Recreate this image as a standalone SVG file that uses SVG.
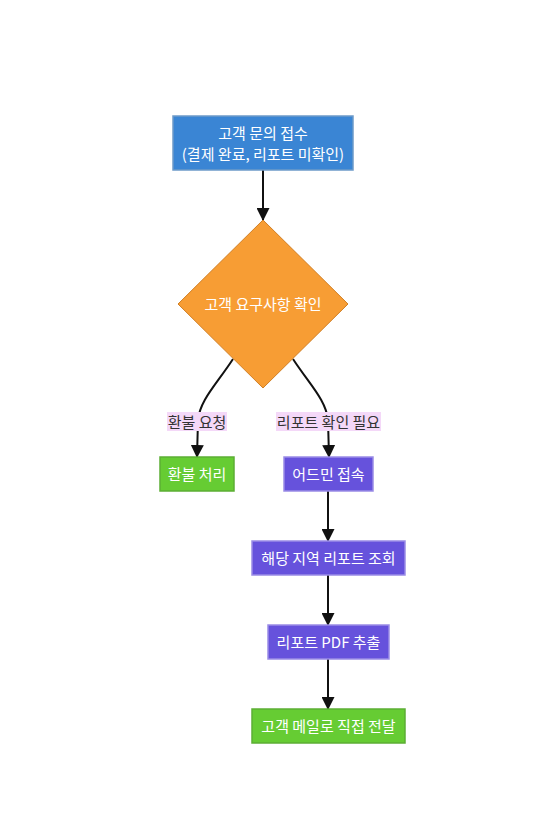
<svg xmlns="http://www.w3.org/2000/svg" width="553" height="818" viewBox="0 0 553 818">
<defs>
<style>
.t{font-family:"Noto Sans CJK KR","Noto Sans",sans-serif;font-size:15px;text-anchor:middle;dominant-baseline:central;fill:#fff}
.lt{font-family:"Noto Sans CJK KR","Noto Sans",sans-serif;font-size:15px;text-anchor:middle;dominant-baseline:central;fill:#333}
.e{fill:none;stroke:#111;stroke-width:2}
.blue{fill:#3a85d4;stroke:#6d9bc9;stroke-width:1.5}
.orange{fill:#f79d34;stroke:#d07f25;stroke-width:1}
.green{fill:#66cc33;stroke:#5cae34;stroke-width:1.5}
.purple{fill:#6652dc;stroke:#9a8ce6;stroke-width:1.5}
.lb{fill:#f4d8f8}
</style>
<marker id="ah" markerWidth="13" markerHeight="13" refX="12" refY="6.5" orient="auto" markerUnits="userSpaceOnUse">
<path d="M0,0 L13,6.5 L0,13 Z" fill="#111"/>
</marker>
</defs>
<rect width="553" height="818" fill="#fff"/>
<g id="edges">
<path class="e" d="M263,170 L263,220" marker-end="url(#ah)"/>
<path class="e" d="M233,359 C216,385 200,400 198,420 L197,457" marker-end="url(#ah)"/>
<path class="e" d="M293,359 C310,385 326,400 328,420 L329,457" marker-end="url(#ah)"/>
<path class="e" d="M328,491 L328,541" marker-end="url(#ah)"/>
<path class="e" d="M328,575 L328,625" marker-end="url(#ah)"/>
<path class="e" d="M328,659 L328,709" marker-end="url(#ah)"/>
<g id="label-refund">
<rect class="lb" x="167" y="412" width="60" height="19"/>
<text class="lt" x="197" y="421">환불 요청</text>
</g>
<g id="label-report">
<rect class="lb" x="276" y="412" width="105" height="19"/>
<text class="lt" x="328.5" y="421">리포트 확인 필요</text>
</g>
</g>
<g id="n1">
<rect class="blue" x="173" y="116" width="180" height="54"/>
<text class="t" x="263" y="132">고객 문의 접수</text>
<text class="t" x="263" y="153">(결제 완료, 리포트 미확인)</text>
</g>
<g id="n2">
<polygon class="orange" points="263,220 348,304 263,388 178,304"/>
<text class="t" x="263" y="303">고객 요구사항 확인</text>
</g>
<g id="n3">
<rect class="green" x="160" y="457" width="74" height="34"/>
<text class="t" x="197" y="473">환불 처리</text>
</g>
<g id="n4">
<rect class="purple" x="284" y="457" width="89" height="34"/>
<text class="t" x="328.5" y="473">어드민 접속</text>
</g>
<g id="n5">
<rect class="purple" x="252" y="541" width="153" height="34"/>
<text class="t" x="328.5" y="557">해당 지역 리포트 조회</text>
</g>
<g id="n6">
<rect class="purple" x="268" y="625" width="121" height="34"/>
<text class="t" x="328.5" y="641">리포트 PDF 추출</text>
</g>
<g id="n7">
<rect class="green" x="252" y="709" width="153" height="34"/>
<text class="t" x="328.5" y="725">고객 메일로 직접 전달</text>
</g>
</svg>
